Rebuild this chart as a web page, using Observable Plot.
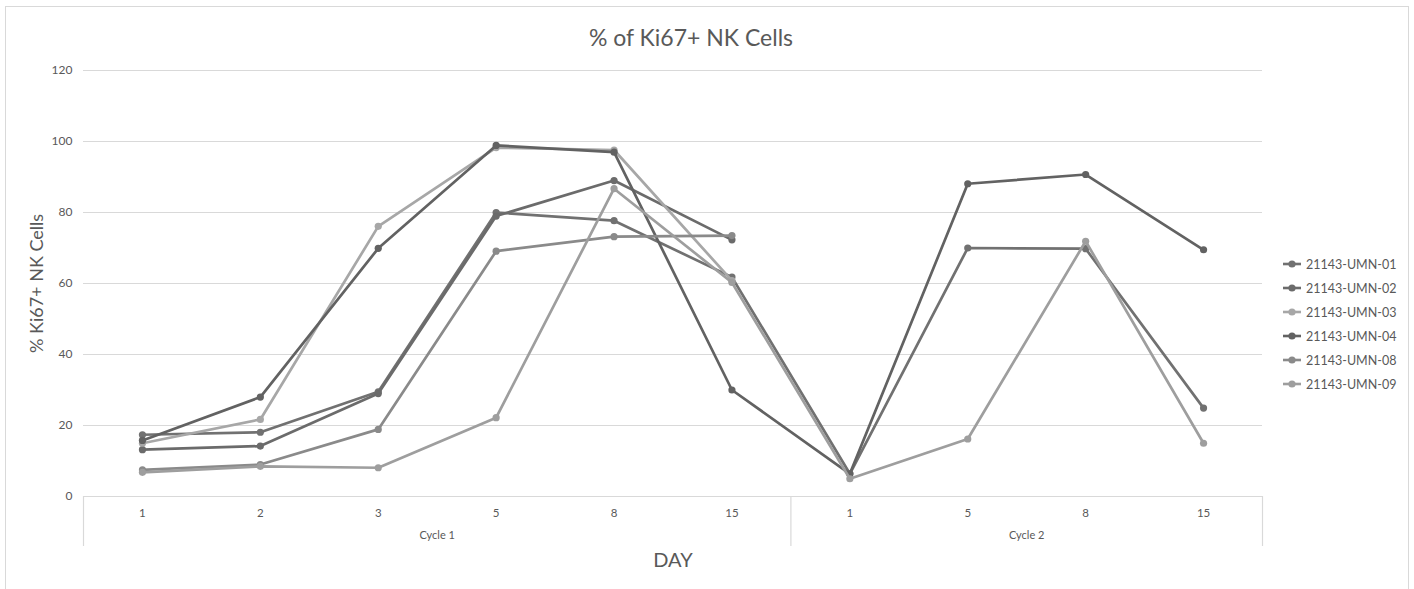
<!DOCTYPE html>
<html>
<head>
<meta charset="utf-8">
<script src="https://cdn.jsdelivr.net/npm/d3@7"></script>
<script src="https://cdn.jsdelivr.net/npm/@observablehq/plot@0.6"></script>
<style>
  html, body { margin: 0; padding: 0; background: #fff; }
  #wrap { position: relative; width: 1414px; height: 589px; overflow: hidden; background: #fff; font-family: Lato, "Open Sans", sans-serif; color: #595959; }
  #frame { position: absolute; left: 5px; top: 6px; width: 1404px; height: 640px; border: 1.5px solid #d9d9d9; box-sizing: border-box; }
  #title { position: absolute; left: 691px; top: 23px; transform: translateX(-50%); font-size: 23px; white-space: nowrap; }
  #chart { position: absolute; left: 0; top: 0; }
  #legend { position: absolute; left: 1282px; top: 252px; font-size: 12.5px; }
  .row { height: 24px; display: flex; align-items: center; }
  .row svg { margin-right: 4px; }
</style>
</head>
<body>
<div id="wrap">
  <div id="frame"></div>
  <div id="chart"></div>
  <div id="title"></div>
  <div id="legend"></div>
</div>
<script>
const titleText = "% of Ki67+ NK Cells";
const yTitle = "% Ki67+ NK Cells";
const xTitle = "DAY";
const days = ["1", "2", "3", "5", "8", "15", "1", "5", "8", "15"];
const cycleNames = ["Cycle 1", "Cycle 2"];
const cycleSizes = [6, 4];
const yTicks = [0, 20, 40, 60, 80, 100, 120];

const seriesNames = ["21143-UMN-01", "21143-UMN-02", "21143-UMN-03", "21143-UMN-04", "21143-UMN-08", "21143-UMN-09"];
const seriesColors = ["#717171", "#6b6b6b", "#a7a7a7", "#626262", "#8a8a8a", "#9e9e9e"];

const umn01 = [17.4, 18.1, 29.5, 80.0, 77.7, 61.8, 6.4, 70.0, 69.8, 24.9];
const umn02 = [13.2, 14.2, 29.0, 79.0, 89.0, 72.3, null, null, null, null];
const umn03 = [15.0, 21.7, 76.1, 98.3, 97.6, 60.8, null, null, null, null];
const umn04 = [15.8, 28.0, 69.9, 98.9, 97.0, 30.0, 6.4, 88.1, 90.7, 69.5];
const umn08 = [7.5, 9.0, 18.9, 69.1, 73.2, 73.5, null, null, null, null];
const umn09 = [6.8, 8.5, 8.1, 22.2, 86.7, 60.3, 5.0, 16.2, 71.9, 15.0];
const seriesValues = [umn01, umn02, umn03, umn04, umn08, umn09];

document.getElementById("title").textContent = titleText;

// cycle boundaries and centers derived from cycle sizes
const bounds = [-0.5];
const centers = [];
let acc = 0;
cycleSizes.forEach(n => { centers.push(acc + (n - 1) / 2); acc += n; bounds.push(acc - 0.5); });
const cycleRows = cycleNames.map((c, k) => ({ name: c, x: centers[k] }));

const idx = days.map((d, i) => i);

const seriesMarks = [];
seriesNames.forEach((name, k) => {
  const rows = seriesValues[k].map((v, i) => ({ series: name, i, value: v })).filter(d => d.value != null);
  seriesMarks.push(Plot.line(rows, { x: "i", y: "value", stroke: seriesColors[k], strokeWidth: 2.7, strokeLinejoin: "round" }));
  seriesMarks.push(Plot.dot(rows, { x: "i", y: "value", fill: seriesColors[k], r: 3.6 }));
});

const chart = Plot.plot({
  width: 1414,
  height: 589,
  marginLeft: 83,
  marginRight: 152,
  marginTop: 70,
  marginBottom: 93,
  style: { fontFamily: "Lato, 'Open Sans', sans-serif", background: "transparent", color: "#595959" },
  x: { domain: [-0.5, days.length - 0.5], axis: null },
  y: { domain: [0, 120], axis: null },
  marks: [
    Plot.gridY(yTicks, { stroke: "#d9d9d9", strokeOpacity: 1, strokeWidth: 1.2 }),
    Plot.axisY(yTicks, { tickSize: 0, tickPadding: 11, fontSize: 12, fill: "#595959", label: null }),
    Plot.ruleX(bounds, { stroke: "#d9d9d9", strokeWidth: 1.2, insetTop: 426, insetBottom: -50 }),
    Plot.axisX(idx, { tickSize: 0, tickPadding: 12, tickFormat: i => days[i], fontSize: 11.5, fill: "#595959", label: null }),
    Plot.text(cycleRows, { x: "x", frameAnchor: "bottom", dy: 42, text: "name", fontSize: 11, fill: "#595959" }),
    Plot.text([xTitle], { frameAnchor: "bottom", dy: 70, text: d => d, fontSize: 20, fill: "#595959" }),
    Plot.text([yTitle], { frameAnchor: "left", textAnchor: "middle", dx: -46, rotate: -90, text: d => d, fontSize: 18, fill: "#595959" }),
    ...seriesMarks
  ]
});
document.getElementById("chart").appendChild(chart);

// legend
const legend = document.getElementById("legend");
seriesNames.forEach((name, k) => {
  const row = document.createElement("div");
  row.className = "row";
  row.innerHTML = `<svg width="20" height="10"><line x1="1" x2="19" y1="5" y2="5" stroke="${seriesColors[k]}" stroke-width="2.6"/><circle cx="10" cy="5" r="3.6" fill="${seriesColors[k]}"/></svg><span>${name}</span>`;
  legend.appendChild(row);
});
</script>
</body>
</html>
